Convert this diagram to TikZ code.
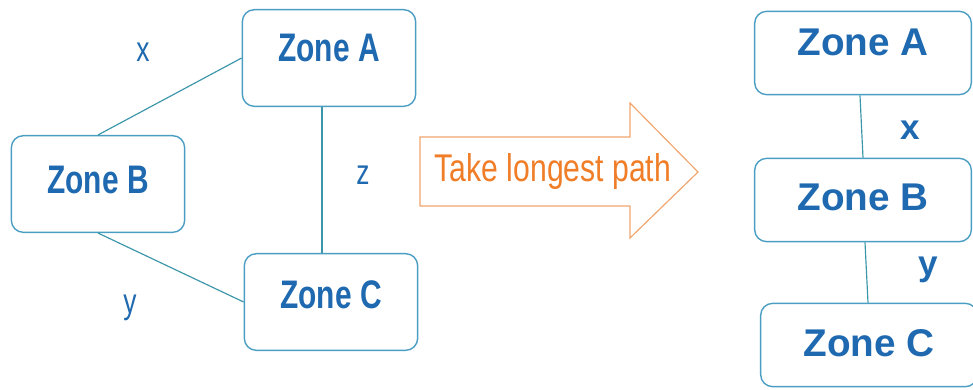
\documentclass[tikz,border=0pt]{standalone}
\usepackage{fontspec}
\setmainfont{Liberation Sans}
\usepackage{graphicx}
\usetikzlibrary{positioning,calc}
\definecolor{zonetext}{RGB}{30,105,175}
\definecolor{zoneline}{RGB}{75,158,195}
\definecolor{linkline}{RGB}{60,150,170}
\definecolor{taketext}{RGB}{240,125,40}
\definecolor{takeline}{RGB}{240,165,110}
\newcommand{\squeeze}[1]{\scalebox{0.75}[1]{#1}}

\begin{document}
\begin{tikzpicture}[x=0.03cm, y=-0.03cm]
  % Estilos
  \tikzset{
    zone/.style={draw=zoneline,line width=1.2pt,rounded corners=0.36cm,fill=white,
      text=zonetext,font=\fontsize{34}{34}\selectfont\bfseries,
      minimum width=5.2cm,minimum height=2.9cm,inner sep=0pt},
    zoneR/.style={zone,font=\fontsize{33}{33}\selectfont\bfseries,
      minimum width=6.5cm,minimum height=2.5cm},
    link/.style={draw=linkline,line width=1pt},
    lab/.style={text=zonetext,font=\fontsize{30}{30}\selectfont},
    labR/.style={lab,font=\fontsize{30}{30}\selectfont\bfseries}
  }
  \useasboundingbox (0,0) rectangle (973,389);

  %================= IZQUIERDA: GRAFO =================
  \node[zone,text depth=0.6cm]  (L-A) at (329,58)  {\squeeze{Zone A}};
  \node[zone,text depth=0.25cm] (L-B) at (98,184)  {\squeeze{Zone B}};
  \node[zone,text depth=0.42cm] (L-C) at (331,302) {\squeeze{Zone C}};

  \draw[link] (L-B.north) -- (L-A.west);
  \draw[link] (L-B.south) -- (L-C.west);
  \draw[link] ([xshift=-0.21cm]L-A.south) -- ([xshift=-0.21cm]L-A.south |- L-C.north);

  \node[lab] (lx) at (143,52)  {\squeeze{x}};
  \node[lab] (ly) at (130,308) {\squeeze{y}};
  \node[lab] (lz) at (363,175) {\squeeze{z}};

  %================= FLECHA =================
  \draw[takeline,line width=1pt] (420,137) -- (630,137) -- (630,103) -- (698,172)
    -- (630,238) -- (630,206) -- (420,206) -- cycle;
  \node[text=taketext,font=\fontsize{33}{33}\selectfont] (take) at (553,172)
    {\scalebox{0.78}[1]{Take longest path}};

  %================= DERECHA: CAMINO =================
  \node[zoneR,text depth=0.66cm] (R-A) at (863,53)  {Zone A};
  \node[zoneR,text depth=0.15cm] (R-B) at (863,200) {Zone B};
  \node[zoneR,text depth=0.1cm]  (R-C) at (869,345) {Zone C};

  \draw[link] ([xshift=-0.09cm]R-A.south) -- (R-B.north);
  \draw[link] ([xshift=0.06cm]R-B.south) -- ([xshift=-0.03cm]R-C.north);

  \node[labR] (rx) at (910,130) {x};
  \node[labR] (ry) at (928,270) {y};

\end{tikzpicture}
\end{document}
